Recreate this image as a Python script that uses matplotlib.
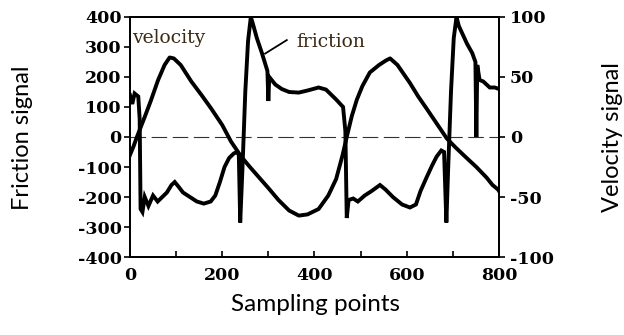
import matplotlib
matplotlib.use('Agg')
import matplotlib.pyplot as plt

plt.rcParams['axes.unicode_minus'] = False

# velocity curve (read in friction-axis units, shown on the velocity axis /4)
vel_x = [0, 8, 15, 32, 45, 61, 75, 86, 95, 110, 133, 155, 176, 200, 219, 241,
         260, 280, 300, 322, 345, 366, 385, 409, 430, 447, 461, 470, 481, 492,
         504, 520, 540, 555, 564, 580, 607, 625, 643, 665, 687, 706, 730, 751,
         773, 786, 798, 802]
vel_y = [-60, -30, 0, 67, 120, 190, 240, 265, 262, 240, 185, 140, 95, 40, -15, -65,
         -100, -135, -170, -210, -245, -262, -258, -240, -195, -140, -60, 0, 70, 125,
         170, 215, 240, 255, 262, 240, 180, 135, 95, 45, -5, -35, -70, -100,
         -135, -160, -175, -185]

# friction curve
fr_x = [0, 5, 10, 18, 21, 23, 27, 32, 40, 50, 60, 70, 80, 90, 97, 105, 115, 130,
        145, 160, 175, 185, 195, 205, 215, 225, 232, 236, 239, 244, 250, 256, 262,
        266, 275, 286, 298, 300, 302, 315, 329, 345, 366, 385, 409, 425, 447, 462,
        467, 470, 474, 484, 494, 509, 524, 542, 554, 570, 590, 607, 620, 630, 643,
        655, 665, 675, 681, 686, 690, 696, 702, 708, 713, 722, 731, 742, 749, 751,
        753, 758, 766, 780, 791, 800]
fr_y = [140, 110, 145, 135, 60, -240, -250, -200, -230, -195, -215, -200, -185, -160,
        -150, -165, -185, -200, -215, -222, -215, -195, -150, -100, -70, -55, -50, -60,
        -285, -100, 150, 320, 400, 380, 330, 280, 220, 120, 200, 175, 160, 150, 148,
        155, 165, 158, 125, 100, 20, -270, -210, -205, -215, -195, -180, -160, -175,
        -200, -225, -235, -225, -180, -135, -95, -65, -45, -50, -285, -100, 150, 330,
        400, 370, 340, 310, 280, 250, 0, 240, 190, 185, 165, 165, 160]

left_ticks = [400, 300, 200, 100, 0, -100, -200, -300, -400]
right_ticks = [100, 50, 0, -50, -100]
x_ticks = [0, 200, 400, 600, 800]

tickfont = dict(family='DejaVu Serif', weight='bold', size=12.5)

fig = plt.figure(figsize=(6.24, 3.35), dpi=100)
ax = fig.add_axes([0.2083, 0.2328, 0.5913, 0.7165])
ax2 = ax.twinx()

ax.set_xlim(0, 800)
ax.set_ylim(-400, 400)
ax2.set_ylim(-100, 100)

ax.axhline(0, color='#333333', lw=0.8, dashes=(14, 5), zorder=1)

ax.plot(fr_x, fr_y, color='black', lw=2.8, solid_joinstyle='miter')
ax2.plot(vel_x, [v / 4.0 for v in vel_y], color='black', lw=2.8)

ax.text(4, 330, 'velocity', family='DejaVu Serif', fontsize=13.5,
        color='#3a2a15', va='center')
ax.text(360, 318, 'friction', family='DejaVu Serif', fontsize=13.5,
        color='#3a2a15', va='center')
ax.plot([340, 293], [323, 278], color='black', lw=1.3)

ax.set_yticks(left_ticks)
ax.set_yticklabels([str(t) for t in left_ticks], fontdict=tickfont)
ax.set_xticks(range(0, 801, 100), minor=False)
ax.set_xticklabels([str(t) if t in x_ticks else '' for t in range(0, 801, 100)],
                   fontdict=tickfont)
ax2.set_yticks(right_ticks)
ax2.set_yticklabels([str(t) for t in right_ticks], fontdict=tickfont)

ax.tick_params(axis='y', direction='out', length=4, width=1.2, pad=2)
ax.tick_params(axis='x', direction='in', length=4, width=1.2, pad=7)
ax2.tick_params(axis='y', direction='out', length=4, width=1.2, pad=4)

for a in (ax, ax2):
    for s in a.spines.values():
        s.set_linewidth(1.3)

fig.text(0.036, 0.59, 'Friction signal', rotation=90, ha='center', va='center',
         family='Lato', size=17)
fig.text(0.981, 0.59, 'Velocity signal', rotation=90, ha='center', va='center',
         family='Lato', size=17)
fig.text(0.506, 0.09, 'Sampling points', ha='center', va='center',
         family='Lato', size=17.5)

fig.savefig('out.png', dpi=100)
